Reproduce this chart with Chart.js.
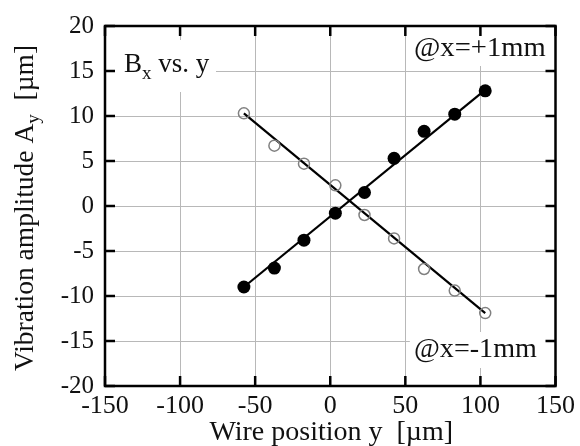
<!DOCTYPE html>
<html>
<head>
<meta charset="utf-8">
<script src="https://cdn.jsdelivr.net/npm/chart.js@4/dist/chart.umd.min.js"></script>
<style>
  html, body { margin: 0; padding: 0; background: #fff; }
  #wrap { width: 580px; height: 446px; }
</style>
</head>
<body>
<div id="wrap"><canvas id="c" width="580" height="446"></canvas></div>
<script>
// ---- data ----
const positions = [-57.5, -37.2, -17.5, 3.4, 22.8, 42.5, 62.5, 82.9, 103.2];   // wire position y [µm]
const ampPlus   = [-9.0, -6.9, -3.8, -0.8, 1.5, 5.3, 8.3, 10.2, 12.8];          // @x=+1mm (filled)
const ampMinus  = [10.3, 6.7, 4.7, 2.3, -1.0, -3.6, -7.0, -9.4, -11.9];         // @x=-1mm (open)
const fitX      = [-57.5, 103.2];
const fitPlus   = [-9.0, 12.9];
const fitMinus  = [10.3, -11.9];
const xTicks    = [-150, -100, -50, 0, 50, 100, 150];
const yTicks    = [-20, -15, -10, -5, 0, 5, 10, 15, 20];

const toPts = (xs, ys) => xs.map((x, i) => ({x: x, y: ys[i]}));
const SERIF = '"Liberation Serif", "DejaVu Serif", serif';

const framePlugin = {
  id: 'frame',
  afterDraw(chart) {
    const ctx = chart.ctx;
    const a = chart.chartArea;
    const xs = chart.scales.x, ys = chart.scales.y;
    ctx.save();

    // annotation boxes (white, hide the grid under the text)
    function note(parts, x, baseline, box) {
      ctx.fillStyle = '#fff';
      ctx.fillRect(box[0], box[1], box[2], box[3]);
      ctx.fillStyle = '#111';
      ctx.textBaseline = 'alphabetic';
      ctx.textAlign = 'left';
      let cx = x;
      for (const p of parts) {
        ctx.font = (p.sub ? '19px ' : '27px ') + SERIF;
        ctx.fillText(p.t, cx, baseline + (p.sub ? 7 : 0));
        cx += ctx.measureText(p.t).width;
      }
    }
    note([{t: 'B'}, {t: 'x', sub: true}, {t: ' vs. y'}], 124, 72, [112, 40, 104, 52]);
    ctx.save(); ctx.translate(414, 56); ctx.scale(1.06, 1);
    note([{t: '@x=+1mm'}], 0, 0, [-4, a.top + 2 - 56, 136, 38]);
    ctx.restore();
    ctx.save(); ctx.translate(414, 357); ctx.scale(1.04, 1);
    note([{t: '@x=-1mm'}], 0, 0, [-4, 332 - 357, 134, 36]);
    ctx.restore();

    // frame
    ctx.strokeStyle = '#000';
    ctx.lineWidth = 2.5;
    ctx.strokeRect(a.left, a.top, a.right - a.left, a.bottom - a.top);

    // inside tick marks on all four sides
    const L = 10;
    ctx.lineWidth = 2.5;
    ctx.beginPath();
    xTicks.forEach(v => {
      const px = xs.getPixelForValue(v);
      ctx.moveTo(px, a.bottom); ctx.lineTo(px, a.bottom - L);
      ctx.moveTo(px, a.top); ctx.lineTo(px, a.top + L);
    });
    yTicks.forEach(v => {
      const py = ys.getPixelForValue(v);
      ctx.moveTo(a.left, py); ctx.lineTo(a.left + L, py);
      ctx.moveTo(a.right, py); ctx.lineTo(a.right - L, py);
    });
    ctx.stroke();

    // axis titles
    ctx.fillStyle = '#111';
    ctx.textBaseline = 'alphabetic';
    // x title
    const xt = 'Wire position y  [\u00b5m]';
    ctx.font = '28px ' + SERIF;
    const xw = ctx.measureText(xt).width;
    ctx.textAlign = 'left';
    ctx.fillText(xt, (a.left + a.right) / 2 - xw / 2 + 1, 440);

    // y title (rotated, with subscript)
    const yParts = [{t: 'Vibration amplitude A'}, {t: 'y', sub: true}, {t: '  [\u00b5m]'}];
    let total = 0;
    yParts.forEach(p => { ctx.font = (p.sub ? '19px ' : '27.5px ') + SERIF; p.w = ctx.measureText(p.t).width; total += p.w; });
    ctx.translate(33, (a.top + a.bottom) / 2 + 2);
    ctx.rotate(-Math.PI / 2);
    let cx = -total / 2;
    yParts.forEach(p => {
      ctx.font = (p.sub ? '19px ' : '27.5px ') + SERIF;
      ctx.fillText(p.t, cx, p.sub ? 6 : 0);
      cx += p.w;
    });
    ctx.restore();
  }
};

new Chart(document.getElementById('c'), {
  type: 'scatter',
  data: {
    datasets: [
      {
        label: '@x=+1mm',
        data: toPts(positions, ampPlus),
        showLine: false,
        pointRadius: 6.5,
        pointBackgroundColor: '#000',
        pointBorderColor: '#000',
        pointBorderWidth: 0
      },
      {
        label: '@x=-1mm',
        data: toPts(positions, ampMinus),
        showLine: false,
        pointRadius: 5.5,
        pointBackgroundColor: 'rgba(255,255,255,0)',
        pointBorderColor: '#808080',
        pointBorderWidth: 1.5
      },
      {
        label: 'fit +1mm',
        data: toPts(fitX, fitPlus),
        showLine: true,
        pointRadius: 0,
        borderColor: '#000',
        borderWidth: 2.2
      },
      {
        label: 'fit -1mm',
        data: toPts(fitX, fitMinus),
        showLine: true,
        pointRadius: 0,
        borderColor: '#000',
        borderWidth: 2.2
      }
    ]
  },
  options: {
    responsive: false,
    animation: false,
    devicePixelRatio: 1,
    layout: { padding: { left: 0, top: 25, right: 22, bottom: 0 } },
    plugins: { legend: { display: false }, tooltip: { enabled: false } },
    scales: {
      x: {
        type: 'linear',
        min: -150, max: 150,
        afterBuildTicks: s => { s.ticks = xTicks.map(v => ({value: v})); },
        afterFit: s => { s.height = 60; },
        grid: { color: '#b8b8b8', lineWidth: 1, drawTicks: false },
        border: { display: false },
        ticks: { color: '#111', padding: 5, maxRotation: 0, autoSkip: false, font: { family: SERIF, size: 26 } }
      },
      y: {
        type: 'linear',
        min: -20, max: 20,
        afterBuildTicks: s => { s.ticks = yTicks.map(v => ({value: v})); },
        afterFit: s => { s.width = 105; },
        grid: { color: '#b8b8b8', lineWidth: 1, drawTicks: false },
        border: { display: false },
        ticks: { color: '#111', padding: 11, autoSkip: false, font: { family: SERIF, size: 25 } }
      }
    }
  },
  plugins: [framePlugin]
});
</script>
</body>
</html>
